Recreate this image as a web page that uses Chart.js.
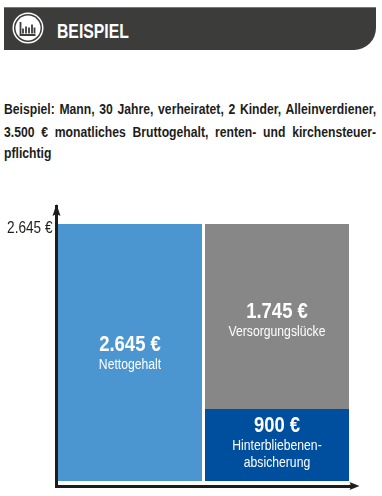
<!DOCTYPE html>
<html lang="de">
<head>
<meta charset="utf-8">
<title>Beispiel</title>
<script src="https://cdn.jsdelivr.net/npm/chart.js@4/dist/chart.umd.min.js"></script>
<style>
  html, body { margin: 0; padding: 0; background: #fff; }
  #page { position: relative; width: 382px; height: 496px; overflow: hidden; font-family: "Liberation Sans", sans-serif; }
  #band { position: absolute; left: 4px; top: 7px; width: 372px; height: 43px; background: #3c3c3b; border-top: 1px solid #777; box-sizing: border-box; border-bottom-right-radius: 22px; }
  #icon { position: absolute; left: 12px; top: 12px; }
  #title { position: absolute; left: 57px; top: 19px; color: #fff; font-size: 21px; line-height: 24px; font-weight: bold; transform: scaleX(0.75); transform-origin: left top; }
  .line { position: absolute; left: 4px; width: 443px; color: #1d1d1b; font-size: 14.5px; line-height: 18px; font-weight: bold; text-align: justify; text-align-last: justify; white-space: nowrap; transform: scaleX(0.84); transform-origin: left top; }
  #chart { position: absolute; left: 0; top: 0; }
</style>
</head>
<body>
<div id="page">
  <div id="band"></div>
  <svg id="icon" width="32" height="32" viewBox="0 0 32 32">
    <circle cx="16" cy="16" r="15.500" fill="#fff"/>
    <circle cx="16" cy="16" r="14" fill="#3c3c3b"/>
    <circle cx="16" cy="16" r="12.500" fill="#fff"/>
    <path d="M8.500 10v13h15M11 21.500v-5M14 21.500v-7M17 21.500v-6M20 21.500v-9M22.500 21.500v-6" fill="none" stroke="#3c3c3b" stroke-width="1.800"/>
  </svg>
  <div id="title">BEISPIEL</div>
  <div class="line" style="top:100px">Beispiel: Mann, 30 Jahre, verheiratet, 2 Kinder, Alleinverdiener,</div>
  <div class="line" style="top:123px">3.500 € monatliches Bruttogehalt, renten- und kirchensteuer-</div>
  <div class="line" style="top:144px;text-align-last:left">pflichtig</div>
  <canvas id="chart" width="382" height="496"></canvas>
</div>
<script>
// the printed amounts are not to scale in the original graphic,
// so the block heights are read off the picture and the labels kept apart
const categories = ['Nettogehalt', 'Lücke']
const nettoHeights = [2645, null]
const absicherungHeights = [null, 741]
const lueckeHeights = [null, 1904]
const yTicks = [2645]
const yTickLabels = ['2.645 €']

const nettoLabel = ['2.645 €', 'Nettogehalt']
const absicherungLabel = ['900 €', 'Hinterbliebenen-', 'absicherung']
const lueckeLabel = ['1.745 €', 'Versorgungslücke']

const AXIS = '#1d1d1b'
const FONT = '"Liberation Sans", sans-serif'

// no condensed face is installed, so squeeze the text sideways
function narrowText(ctx, text, x, y, squeeze) {
  ctx.save()
  ctx.translate(x, y)
  ctx.scale(squeeze, 1)
  ctx.fillText(text, 0, 0)
  ctx.restore()
}

// === AXIS ARROWS AND TICK LABEL ===
const arrows = {
  id: 'arrows',
  afterDraw(chart) {
    const { ctx, chartArea: a } = chart
    ctx.save()
    ctx.strokeStyle = AXIS
    ctx.fillStyle = AXIS
    ctx.lineWidth = 3
    ctx.beginPath()
    ctx.moveTo(a.right - 1, a.bottom)
    ctx.lineTo(a.right + 3, a.bottom)
    ctx.stroke()
    ctx.beginPath()
    ctx.moveTo(a.right + 9, a.bottom)
    ctx.lineTo(a.right - 1, a.bottom - 4)
    ctx.lineTo(a.right + 1, a.bottom)
    ctx.lineTo(a.right - 1, a.bottom + 4)
    ctx.closePath()
    ctx.fill()
    ctx.beginPath()
    ctx.moveTo(a.left, a.top - 2)
    ctx.lineTo(a.left - 4, a.top + 10)
    ctx.lineTo(a.left, a.top + 8)
    ctx.lineTo(a.left + 4, a.top + 10)
    ctx.closePath()
    ctx.fill()

    ctx.font = '16px ' + FONT
    ctx.textAlign = 'right'
    yTicks.forEach((value, i) => {
      narrowText(ctx, yTickLabels[i], a.left - 4, chart.scales.y.getPixelForValue(value) + 9, 0.85)
    })
    ctx.restore()
  }
}

// === TEXT INSIDE THE BLOCKS ===
const blockLabels = {
  id: 'blockLabels',
  afterDatasetsDraw(chart) {
    const { ctx } = chart
    ctx.save()
    ctx.fillStyle = '#fff'
    ctx.textAlign = 'center'
    ctx.textBaseline = 'alphabetic'
    chart.data.datasets.forEach((ds, i) => {
      const index = ds.data.findIndex(v => v !== null)
      const bar = chart.getDatasetMeta(i).data[index]
      const top = (bar.y + bar.base) / 2 + ds.textOffset
      ds.blockText.forEach((t, n) => {
        ctx.font = n === 0 ? 'bold 22px ' + FONT : '14px ' + FONT
        narrowText(ctx, t, bar.x, n === 0 ? top : top + 1 + n * 17, n === 0 ? 0.84 : 0.87)
      })
    })
    ctx.restore()
  }
}

const myChart = new Chart(document.getElementById('chart'), {
  type: 'bar',
  data: {
    labels: categories,
    datasets: [
      { label: 'Nettogehalt', data: nettoHeights, backgroundColor: '#4b96d1', blockText: nettoLabel, textOffset: -1.5 },
      { label: 'Hinterbliebenenabsicherung', data: absicherungHeights, backgroundColor: '#004f9f', blockText: absicherungLabel, textOffset: -13 },
      { label: 'Versorgungslücke', data: lueckeHeights, backgroundColor: '#878787', blockText: lueckeLabel, textOffset: 1.5 }
    ]
  },
  options: {
    responsive: false,
    animation: false,
    layout: { padding: { top: 206, right: 31.5, bottom: 10, left: 0 } },
    plugins: { legend: { display: false }, tooltip: { enabled: false } },
    datasets: { bar: { barPercentage: 144 / 147, categoryPercentage: 1 } },
    scales: {
      x: {
        stacked: true,
        afterFit: scale => { scale.height = 0 },
        grid: { display: false },
        border: { color: AXIS, width: 3 },
        ticks: { display: false }
      },
      y: {
        stacked: true,
        min: -51,
        max: 2830,
        afterFit: scale => { scale.width = 56.5 },
        afterBuildTicks: scale => { scale.ticks = yTicks.map(value => ({ value })) },
        grid: { display: false },
        border: { color: AXIS, width: 3 },
        ticks: { display: false }
      }
    }
  },
  plugins: [arrows, blockLabels]
})
</script>
</body>
</html>
